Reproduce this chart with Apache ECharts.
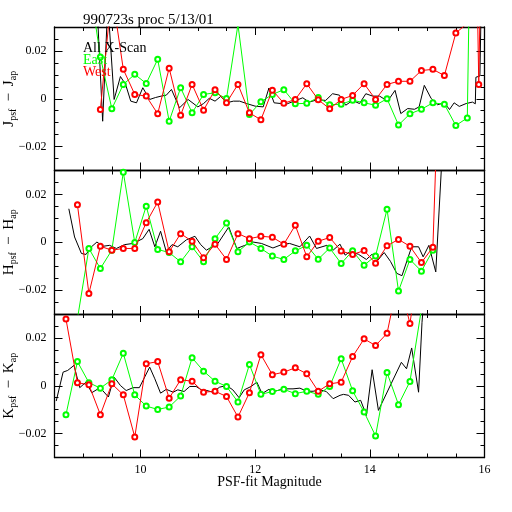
<!DOCTYPE html>
<html><head><meta charset="utf-8">
<script src="https://cdn.jsdelivr.net/npm/echarts@6/dist/echarts.min.js"></script>
<style>html,body{margin:0;padding:0;background:#fff}#c{width:512px;height:512px}</style>
</head><body><div id="c"></div>
<script>
const FONT = 'Liberation Serif';
const titleText = '990723s proc 5/13/01';
const legendNames = ['All X-Scan', 'East', 'West'];
const xLabel = 'PSF-fit Magnitude';
const bandNames = ['J', 'H', 'K'];
const xMajorTicks = [10, 12, 14, 16];
const yMajorTicks = [-0.02, 0, 0.02];

// ---- J band ----
const jAllX = [9.24,9.34,9.43,9.54,9.65,9.74,9.83,9.93,10.04,10.16,10.26,10.36,10.45,10.54,10.68,10.83,11.0,11.1,11.2,11.3,11.4,11.5,11.62,11.73,11.85,12.0,12.14,12.24,12.33,12.45,12.56,12.68,12.83,12.94,13.09,13.23,13.35,13.47,13.58,13.7,13.82,13.93,14.05,14.17,14.31,14.44,14.54,14.66,14.78,14.86,14.95,15.07,15.18,15.3,15.39,15.47,15.56,15.68,15.79,15.84,15.85,15.92,16.0];
const jAllY = [0.04,-0.0094,0.04,-0.0003,0.0093,0.006,-0.001,-0.0017,0.0046,-0.0003,0.0005,0.0011,0.0015,0.0039,-0.0038,-0.0003,-0.0034,-0.002,0.0002,-0.001,0.001,-0.0017,-0.001,-0.001,-0.002,-0.0031,-0.0034,0.0045,-0.0017,-0.002,-0.0021,-0.001,0.0004,-0.0014,-0.0004,-0.0007,0.0021,0.0015,-0.0027,-0.0007,-0.002,0.0021,0.0011,0.0011,-0.001,0.0035,-0.0062,-0.0041,-0.0044,-0.0034,0.0056,0.0001,-0.0025,-0.0017,-0.0045,-0.0017,-0.0032,-0.002,-0.0014,-0.0021,0.009,0.0095,0.12];
const jEastX = [9.1,9.3,9.5,9.7,9.9,10.1,10.3,10.5,10.7,10.9,11.1,11.3,11.5,11.7,11.9,12.1,12.3,12.5,12.7,12.9,13.1,13.3,13.5,13.7,13.9,14.1,14.3,14.5,14.7,14.9,15.1,15.3,15.5,15.7,15.9];
const jEastY = [0.05,0.0175,-0.0042,0.006,0.0102,0.0064,0.0165,-0.0094,0.0046,-0.0059,0.0018,0.0025,0.0001,0.031,-0.0066,-0.0013,0.0018,0.0038,-0.0021,-0.0019,0.0005,-0.0025,-0.0023,-0.0006,-0.0017,-0.0027,0.0,-0.011,-0.0063,-0.0044,-0.0017,-0.0023,-0.0112,-0.008,0.3];
const jWestX = [9.3,9.5,9.7,9.9,10.1,10.3,10.5,10.7,10.9,11.1,11.3,11.5,11.7,11.9,12.1,12.3,12.5,12.7,12.9,13.1,13.3,13.5,13.7,13.9,14.1,14.3,14.5,14.7,14.9,15.1,15.3,15.5,15.7,15.8,15.9,16.1];
const jWestY = [-0.0045,0.045,0.0123,0.0018,0.0011,-0.0063,0.0128,-0.0069,0.006,-0.0048,0.0038,-0.0017,0.006,-0.0059,-0.0088,0.0036,-0.0019,-0.0003,0.0063,-0.0004,-0.0042,-0.0003,0.0014,0.0063,-0.0003,0.006,0.0073,0.0073,0.0118,0.0123,0.0097,0.0275,0.0315,0.15,0.006,0.3];

// ---- H band ----
const hAllX = [8.75,8.85,8.97,9.05,9.14,9.24,9.34,9.46,9.58,9.72,9.87,10.04,10.15,10.25,10.35,10.45,10.55,10.65,10.8,10.95,11.05,11.15,11.35,11.54,11.68,11.82,11.96,12.11,12.31,12.46,12.6,12.78,12.95,13.07,13.25,13.36,13.48,13.57,13.65,13.8,13.94,14.04,14.14,14.25,14.36,14.47,14.56,14.73,14.85,14.93,15.03,15.15,15.28];
const hAllY = [0.014,0.0022,-0.0047,-0.0051,-0.002,0.0001,-0.0017,-0.0013,-0.0026,-0.001,-0.0005,0.0015,0.0054,-0.0019,0.0046,-0.004,-0.001,-0.0019,0.001,0.0025,-0.001,-0.0033,-0.0005,0.0064,-0.0026,-0.0013,0.0001,-0.0005,-0.0024,-0.001,-0.0005,-0.0019,0.0026,-0.0026,-0.0013,-0.0033,-0.0008,-0.0054,-0.004,-0.005,-0.0072,-0.005,-0.0075,-0.0043,-0.008,-0.013,-0.014,-0.0019,-0.0019,-0.0061,-0.0013,-0.0124,0.045];
const hEastX = [8.9,9.1,9.3,9.5,9.7,9.9,10.1,10.3,10.5,10.7,10.9,11.1,11.3,11.5,11.7,11.9,12.1,12.3,12.5,12.7,12.9,13.1,13.3,13.5,13.7,13.9,14.1,14.3,14.5,14.7,14.9,15.1];
const hEastY = [-0.032,-0.0026,-0.011,-0.0033,0.0293,-0.0001,0.0151,-0.003,-0.0043,-0.0082,-0.0019,-0.0082,0.0015,0.008,-0.004,0.0001,-0.0026,-0.0058,-0.0072,-0.0036,-0.0013,-0.0071,-0.0024,-0.0089,-0.0036,-0.0096,-0.0057,0.0138,-0.0204,-0.0072,-0.0121,-0.0033];
const hWestX = [8.9,9.1,9.3,9.5,9.7,9.9,10.1,10.3,10.5,10.7,10.9,11.1,11.3,11.5,11.7,11.9,12.1,12.3,12.5,12.7,12.9,13.1,13.3,13.5,13.7,13.9,14.1,14.3,14.5,14.7,14.9,15.1,15.3];
const hWestY = [0.0157,-0.0214,-0.0017,-0.0033,-0.0026,-0.0026,0.0082,0.0168,-0.004,0.0036,0.0004,-0.0065,-0.0008,-0.0072,0.0036,0.0015,0.0025,0.0021,-0.0008,0.0071,-0.0061,0.0004,0.002,-0.0037,-0.0051,-0.0035,-0.0088,-0.0015,0.0012,-0.0017,-0.0085,-0.0021,0.14];

// ---- K band ----
const kAllX = [8.53,8.65,8.73,8.84,8.94,9.05,9.15,9.26,9.34,9.44,9.54,9.65,9.75,9.87,9.98,10.16,10.25,10.35,10.45,10.57,10.65,10.76,10.86,10.97,11.06,11.16,11.26,11.38,11.5,11.61,11.72,11.81,11.93,12.03,12.12,12.24,12.36,12.49,12.66,12.78,12.9,13.01,13.13,13.24,13.36,13.48,13.54,13.63,13.74,13.84,13.94,14.04,14.15,14.55,14.64,14.73,14.85,14.91,14.97];
const kAllY = [-0.0064,0.0057,0.0064,0.0085,-0.0008,0.0015,-0.0029,-0.0013,-0.002,-0.0047,0.0036,0.0001,-0.002,-0.0008,-0.0008,0.0078,0.0029,-0.0031,-0.0015,-0.0027,-0.0017,-0.0024,-0.0003,-0.0003,-0.0017,-0.002,-0.0027,-0.0006,0.0001,-0.0017,-0.005,-0.0017,-0.0003,0.0015,-0.0033,-0.0015,-0.0022,-0.0013,-0.0013,-0.001,-0.0023,-0.0023,-0.0017,-0.0024,-0.0054,-0.004,-0.0036,-0.004,-0.0068,-0.0061,-0.0124,0.0067,-0.0103,0.0098,0.0071,0.0158,-0.0027,0.0265,0.045];
const kEastX = [8.7,8.9,9.1,9.3,9.5,9.7,9.9,10.1,10.3,10.5,10.7,10.9,11.1,11.3,11.5,11.7,11.9,12.1,12.3,12.5,12.7,12.9,13.1,13.3,13.5,13.7,13.9,14.1,14.3,14.5,14.7,14.9];
const kEastY = [-0.0121,0.0101,0.0013,-0.001,0.0025,0.0136,-0.0038,-0.0085,-0.0099,-0.0089,-0.0043,0.0117,0.0061,0.0019,-0.0003,-0.0068,0.0089,-0.0036,-0.0024,-0.0015,-0.0033,-0.0023,-0.0036,-0.0003,0.0113,-0.0021,-0.011,-0.021,0.0055,-0.0079,0.0018,0.032];
const kWestX = [8.7,8.9,9.1,9.3,9.5,9.7,9.9,10.1,10.3,10.5,10.7,10.9,11.1,11.3,11.5,11.7,11.9,12.1,12.3,12.5,12.7,12.9,13.1,13.3,13.5,13.7,13.9,14.1,14.3,14.5,14.7,14.9];
const kWestY = [0.0279,0.0013,0.0004,-0.0121,0.0008,-0.0038,-0.0214,0.0092,0.0101,-0.0052,0.0025,0.0019,-0.0027,-0.0023,-0.0045,-0.0131,-0.0029,0.013,0.0046,0.0057,0.0075,0.005,-0.0023,0.0008,0.0015,0.0122,0.0196,0.0168,0.0219,0.045,0.026,0.06];

const panels = [
  {all:[jAllX,jAllY], east:[jEastX,jEastY], west:[jWestX,jWestY]},
  {all:[hAllX,hAllY], east:[hEastX,hEastY], west:[hWestX,hWestY]},
  {all:[kAllX,kAllY], east:[kEastX,kEastY], west:[kWestX,kWestY]}
];

const colors = ['#000000', '#00ff00', '#ff0000'];
const gridTops = [27, 170.5, 314];
const gridH = 143.5;
const pair = (xs, ys) => xs.map((x, i) => [x, ys[i]]);

const grids = [], xAxes = [], yAxes = [], series = [];
const lineCol = '#000';
const frame = {onZero:false, lineStyle:{color:lineCol, width:1.3}};
const noLine = {show:false, onZero:false};
panels.forEach((p, g) => {
  grids.push({left: 54.5, width: 430, top: gridTops[g], height: gridH, containLabel:false, outerBoundsMode:'none'});
  const bx = {type:'value', min:8.5, max:16, gridIndex:g, splitLine:{show:false}};
  const last = g === 2;
  xAxes.push(Object.assign({}, bx, {position:'bottom', interval:0.5, axisLine:frame,
    axisTick:{inside:true, length:4, lineStyle:{color:lineCol, width:1}},
    axisLabel: last ? {interval:0, color:'#000', fontFamily:FONT, fontSize:12, margin:6,
      formatter: v => { const r = Math.round(v * 10); return r % 20 === 0 ? String(r / 10) : ''; }} : {show:false},
    name: last ? xLabel : '', nameLocation:'middle', nameGap:18, nameMoveOverlap:false,
    nameTextStyle:{color:'#000', fontFamily:FONT, fontSize:14}}));
  xAxes.push(Object.assign({}, bx, {position:'bottom', axisLine:noLine,
    axisTick:{inside:true, length:8, customValues:xMajorTicks, lineStyle:{color:lineCol, width:1}}, axisLabel:{show:false}}));
  xAxes.push(Object.assign({}, bx, {position:'top', interval:0.5, axisLine:frame,
    axisTick:{inside:true, length:4, lineStyle:{color:lineCol, width:1}}, axisLabel:{show:false}}));
  xAxes.push(Object.assign({}, bx, {position:'top', axisLine:noLine,
    axisTick:{inside:true, length:8, customValues:xMajorTicks, lineStyle:{color:lineCol, width:1}}, axisLabel:{show:false}}));

  const by = {type:'value', min:-0.03, max:0.03, gridIndex:g, splitLine:{show:false}};
  const b = bandNames[g];
  yAxes.push(Object.assign({}, by, {position:'left', interval:0.005, axisLine:frame,
    axisTick:{inside:true, length:4, lineStyle:{color:lineCol, width:1}},
    axisLabel:{interval:0, color:'#000', fontFamily:FONT, fontSize:12, margin:8,
      formatter: v => { const r = Math.round(v * 1000);
        if (Math.abs(r) >= 30 || r % 20 !== 0) return '';
        if (r === 0) return '0';
        return (r < 0 ? '\u2212' : '') + (Math.abs(r) / 1000).toFixed(2); }},
    name: '{m|' + b + '}{s|psf}{d|\u2212}{m|' + b + '}{s|ap}',
    nameLocation:'middle', nameRotate:90, nameGap:36, nameMoveOverlap:false,
    nameTextStyle:{color:'#000', fontFamily:FONT, rich:{
      m:{fontFamily:FONT, fontSize:15, color:'#000', lineHeight:18, verticalAlign:'middle'},
      d:{fontFamily:FONT, fontSize:15, color:'#000', lineHeight:18, verticalAlign:'middle', padding:[0,7,0,7]},
      s:{fontFamily:FONT, fontSize:10, color:'#000', lineHeight:10, verticalAlign:'bottom', padding:[7,0,0,0]}}}}));
  yAxes.push(Object.assign({}, by, {position:'left', axisLine:noLine,
    axisTick:{inside:true, length:8, customValues:yMajorTicks, lineStyle:{color:lineCol, width:1}}, axisLabel:{show:false}}));
  yAxes.push(Object.assign({}, by, {position:'right', interval:0.005, axisLine:frame,
    axisTick:{inside:true, length:4, lineStyle:{color:lineCol, width:1}}, axisLabel:{show:false}}));
  yAxes.push(Object.assign({}, by, {position:'right', axisLine:noLine,
    axisTick:{inside:true, length:8, customValues:yMajorTicks, lineStyle:{color:lineCol, width:1}}, axisLabel:{show:false}}));

  const xi = g * 4, yi = g * 4;
  [['all', 0], ['east', 1], ['west', 2]].forEach(([k, ci]) => {
    const marked = ci > 0;
    series.push({type:'line', name:legendNames[ci], xAxisIndex:xi, yAxisIndex:yi,
      data: pair(p[k][0], p[k][1]), clip:true, animation:false,
      showSymbol: marked, showAllSymbol:true, symbol:'emptyCircle', symbolSize:5,
      lineStyle:{color:colors[ci], width:1},
      itemStyle:{color:colors[ci], borderColor:colors[ci], borderWidth:1.2},
      emphasis:{disabled:true}, z: 2 + ci});
  });
});

const graphic = [
  {type:'text', left:83, top:13, style:{text:titleText, font:'15px "' + FONT + '"', fill:'#000'}, z:10},
  {type:'text', left:83, top:41, style:{text:legendNames[0], font:'14px "' + FONT + '"', fill:colors[0]}, z:10},
  {type:'text', left:83, top:53, style:{text:legendNames[1], font:'14px "' + FONT + '"', fill:colors[1]}, z:10},
  {type:'text', left:83, top:65, style:{text:legendNames[2], font:'14px "' + FONT + '"', fill:colors[2]}, z:10}
];

const chart = echarts.init(document.getElementById('c'), null, {renderer:'canvas'});
chart.setOption({backgroundColor:'#fff', animation:false, grid:grids, xAxis:xAxes, yAxis:yAxes, series:series, graphic:graphic});
</script></body></html>
